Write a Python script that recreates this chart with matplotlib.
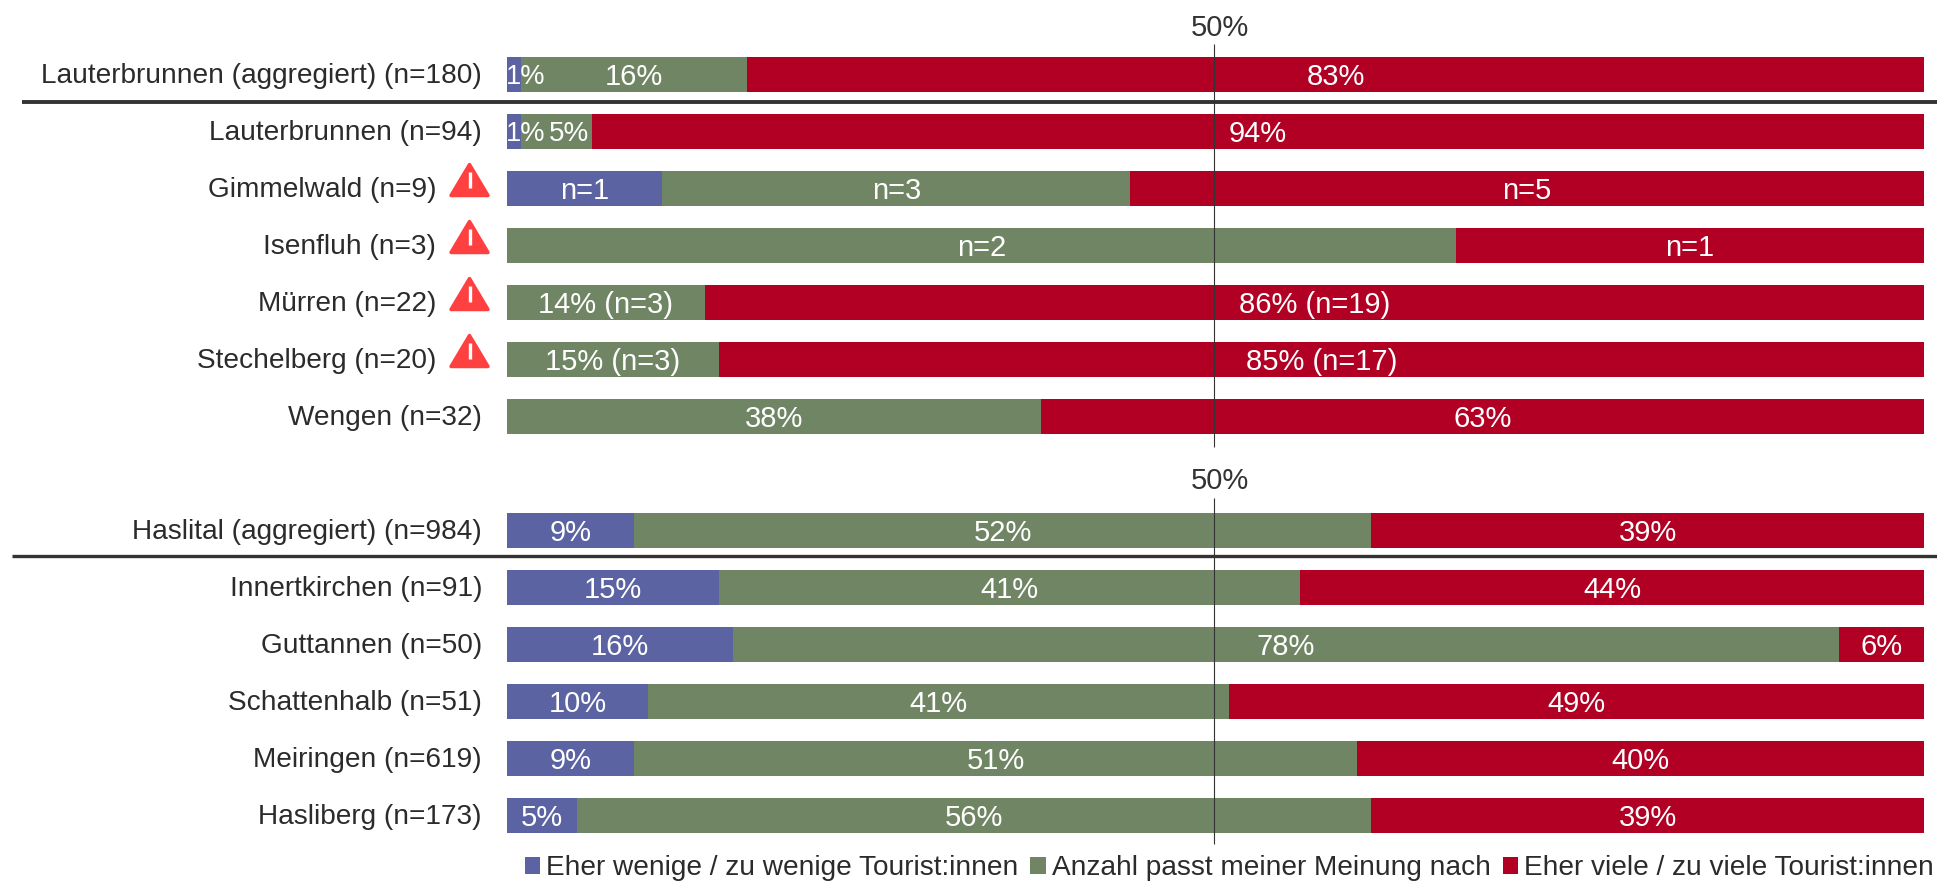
import matplotlib
matplotlib.use("Agg")
import matplotlib.pyplot as plt
from matplotlib.transforms import Affine2D
from matplotlib.patches import Polygon
from matplotlib.lines import Line2D

plt.rcParams['font.family'] = ['Liberation Sans', 'DejaVu Sans']

W, H = 1937, 882

rows = [0, 1, 2, 3, 4, 5, 6, 8, 9, 10, 11, 12, 13]
names = ["Lauterbrunnen (aggregiert) (n=180)", "Lauterbrunnen (n=94)", "Gimmelwald (n=9)",
         "Isenfluh (n=3)", "Mürren (n=22)", "Stechelberg (n=20)", "Wengen (n=32)",
         "Haslital (aggregiert) (n=984)", "Innertkirchen (n=91)", "Guttannen (n=50)",
         "Schattenhalb (n=51)", "Meiringen (n=619)", "Hasliberg (n=173)"]
warned = [False, False, True, True, True, True, False, False, False, False, False, False, False]

low = [1, 1, 11, 0, 0, 0, 0, 9, 15, 16, 10, 9, 5]
fit = [16, 5, 33, 67, 14, 15, 37.7, 52, 41, 78, 41, 51, 56]
high = [83, 94, 56, 33, 86, 85, 62.3, 39, 44, 6, 49, 40, 39]

low_labels = ["1%", "1%", "n=1", "", "", "", "", "9%", "15%", "16%", "10%", "9%", "5%"]
fit_labels = ["16%", "5%", "n=3", "n=2", "14% (n=3)", "15% (n=3)", "38%", "52%", "41%", "78%", "41%", "51%", "56%"]
high_labels = ["83%", "94%", "n=5", "n=1", "86% (n=19)", "85% (n=17)", "63%", "39%", "44%", "6%", "49%", "40%", "39%"]

series_names = ["Eher wenige / zu wenige Tourist:innen",
                "Anzahl passt meiner Meinung nach",
                "Eher viele / zu viele Tourist:innen"]
colors = ["#5B63A3", "#708564", "#B20024"]

fig = plt.figure(figsize=(W / 100, H / 100), dpi=100, facecolor="white")
px = Affine2D().scale(1 / W, -1 / H).translate(0, 1) + fig.transFigure

ax = fig.add_axes([506.5 / W, 0, (1924 - 506.5) / W, 1])
ax.set_xlim(0, 100)
PITCH, Y0 = 57, 74.5
ax.set_ylim((H - Y0) / PITCH, -Y0 / PITCH)
ax.axis("off")

left = [0] * len(rows)
handles = []
for vals, labs, col, nm in zip([low, fit, high], [low_labels, fit_labels, high_labels], colors, series_names):
    b = ax.barh(rows, vals, left=left, height=35 / PITCH, color=col, linewidth=0, label=nm, zorder=2)
    handles.append(b)
    for r, v, l, lab in zip(rows, vals, left, labs):
        if not lab:
            continue
        ax.text(l + v / 2, r + 2.5 / PITCH, lab, color="white", fontsize=21,
                ha="center", va="center", zorder=4)
    left = [a + b_ for a, b_ in zip(left, vals)]

# narrow segments: labels pushed off-centre in the reference
for t in ax.texts:
    if t.get_text() == "1%":
        t.set_ha("left"); t.set_x(-0.05); t.set_fontsize(19.5)
    if t.get_text() == "5%" and t.get_position()[1] < 2:
        t.set_ha("right"); t.set_x(5.8); t.set_fontsize(20)

# 50 % reference lines
ax.vlines(49.9, (44 - Y0) / PITCH, (447 - Y0) / PITCH, color="#333333", lw=0.8, zorder=3)
ax.vlines(49.9, (498 - Y0) / PITCH, (844 - Y0) / PITCH, color="#333333", lw=0.8, zorder=3)
for yy in [(28 - Y0) / PITCH, (481 - Y0) / PITCH]:
    ax.text(50.3, yy, "50%", color="#333333", fontsize=21, ha="center", va="center")

# row names
for r, n, w in zip(rows, names, warned):
    fig.text((436 if w else 482) / W, 1 - (Y0 + 1.5 + r * PITCH) / H, n, color="#2b2b2b",
             fontsize=20.2, ha="right", va="center")
    if w:
        cy = Y0 + r * PITCH - 8
        tri = [(469.5, cy - 16), (488, cy + 15), (451, cy + 15)]
        fig.add_artist(Polygon(tri, closed=True, transform=px, facecolor="#FF4040",
                               edgecolor="#FF4040", lw=2.5, joinstyle="round"))
        fig.add_artist(Line2D([469.5, 469.5], [cy - 9, cy + 7], transform=px, color="white", lw=2.4,
                              solid_capstyle="butt"))
        fig.add_artist(Line2D([469.5, 469.5], [cy + 11, cy + 11.5], transform=px, color="white", lw=2.6,
                              solid_capstyle="round"))

# horizontal rules
fig.add_artist(Line2D([22, W], [102, 102], transform=px, color="#333333", lw=2.8, solid_capstyle="butt"))
fig.add_artist(Line2D([12, W], [556, 556], transform=px, color="#333333", lw=2.4, solid_capstyle="butt"))

fig.legend(handles=handles, loc="lower right", bbox_to_anchor=(1934 / W, 1 - 881 / H), ncol=3, frameon=False,
           fontsize=20.2, labelcolor="#2b2b2b", handlelength=0.55, handleheight=0.55,
           handletextpad=0.22, columnspacing=0.42, borderpad=0, borderaxespad=0)

fig.savefig("out.png", dpi=100, facecolor="white")
